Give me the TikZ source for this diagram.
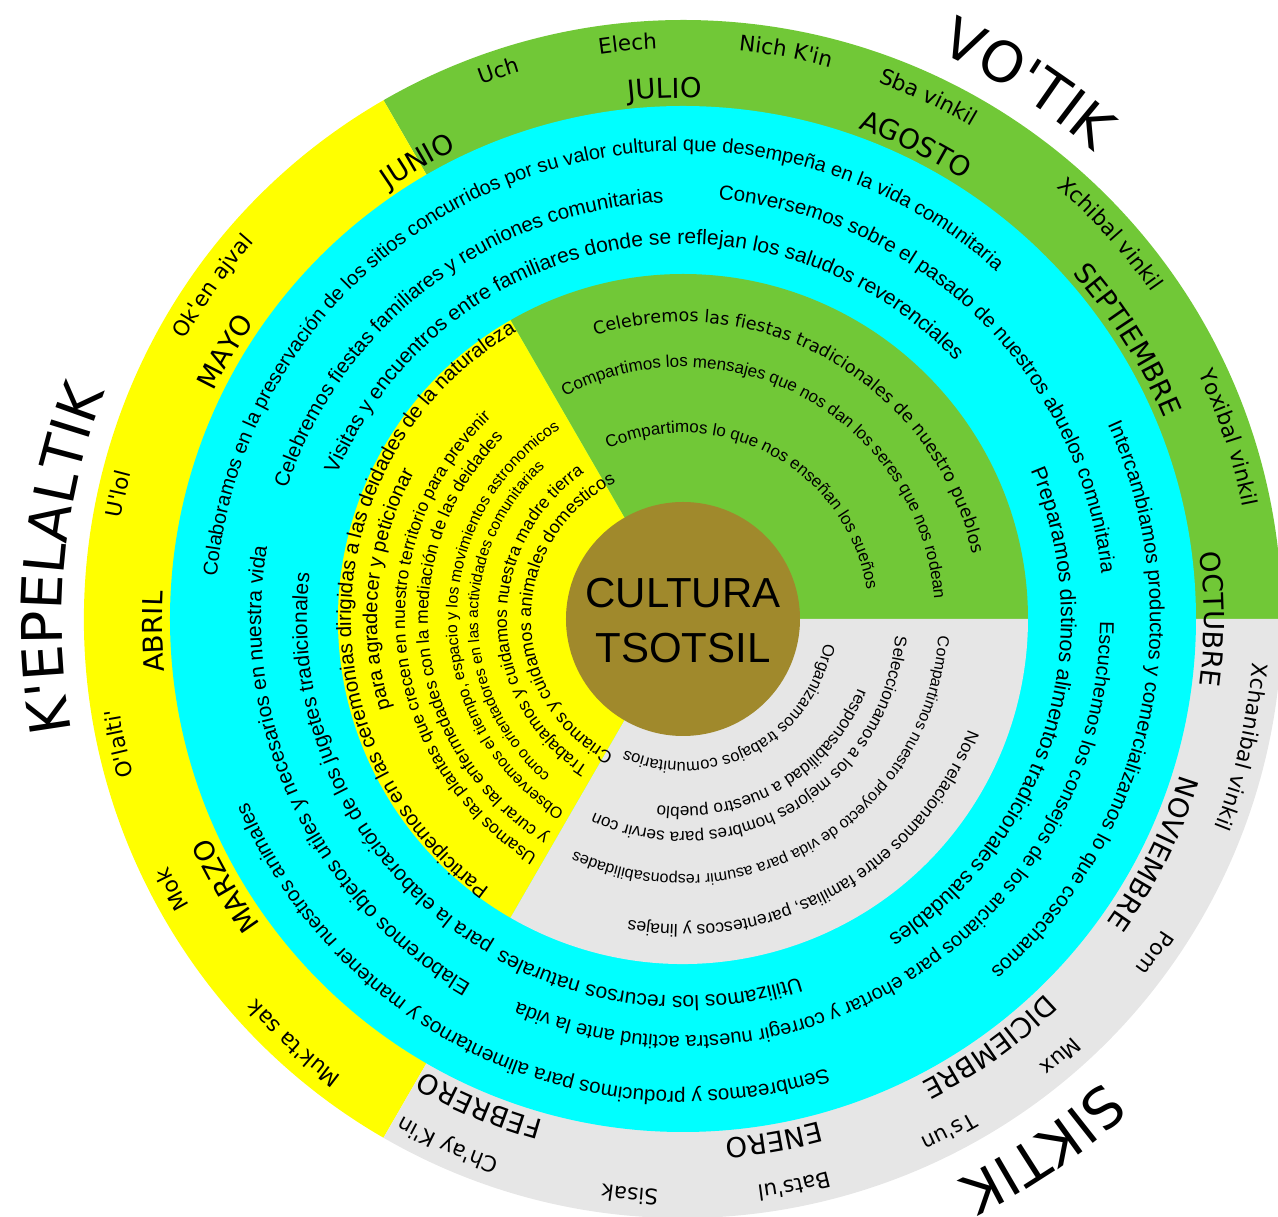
\documentclass[tikz,border=0pt]{standalone}
\usepackage{fontspec}
\usetikzlibrary{decorations.text}

\newfontfamily\rotulo{DejaVu Sans}
\newfontfamily\frase{Liberation Sans}

\definecolor{verde}{RGB}{113,200,55}
\definecolor{amarillo}{RGB}{255,255,0}
\definecolor{celeste}{RGB}{0,255,255}
\definecolor{gris}{RGB}{230,230,230}
\definecolor{tierra}{RGB}{160,137,44}

% font sizes
\newcommand{\fmes}{\rotulo\fontsize{27.5}{27.5}\selectfont}
\newcommand{\fnombre}{\rotulo\fontsize{21.5}{21.5}\selectfont}
\newcommand{\festacion}{\rotulo\fontsize{56}{56}\selectfont}
\newcommand{\ftexto}[1]{\frase\fontsize{#1}{#1}\selectfont}

% text set clockwise on a circle round the centre
% #1 font, #2 baseline radius, #3 middle angle, #4 text
\newcommand{\arco}[4]{%
  \path[decorate, decoration={text along path, text align=center, text={|#1|#4}}]
    ({#3+100}:#2) arc[start angle={#3+100}, end angle={#3-100}, radius=#2];}

\begin{document}
\begin{tikzpicture}[
  x=1pt, y=1pt,
  centro/.style={font=\ftexto{42}, anchor=base, inner sep=0pt}
]
\useasboundingbox (-683,-598) rectangle (595,619);

% Outer ring: months
\foreach \col/\a in {verde/0, amarillo/120, gris/240}
  \fill[\col] (0,0) -- (\a:599) arc[start angle=\a, end angle=\a+120, radius=599] -- cycle;
% Middle ring
\fill[celeste] (0,0) circle[radius=513];
% Inner sectors
\foreach \col/\a in {verde/0, amarillo/120, gris/240}
  \fill[\col] (0,0) -- (\a:345) arc[start angle=\a, end angle=\a+120, radius=345] -- cycle;
% Centre
\fill[tierra] (0,0) circle[radius=117];
\node[centro] (cultura) at (0,11) {CULTURA};
\node[centro] (tsotsil) at (0,-44) {TSOTSIL};

% Seasons
\arco{\festacion}{622}{57.2}{VO'TIK}
\arco{\festacion}{621}{174.5}{K'EPELALTIK}
\arco{\festacion}{625}{-55.8}{SIKTIK}

% Months
\arco{\fmes}{521}{120.1}{JUNIO}
\arco{\fmes}{521}{92}{JULIO}
\arco{\fmes}{521}{63.9}{AGOSTO}
\arco{\fmes}{521}{32.1}{SEPTIEMBRE}
\arco{\fmes}{521}{0}{OCTUBRE}
\arco{\fmes}{521}{-26.5}{NOVIEMBRE}
\arco{\fmes}{521}{-54.4}{DICIEMBRE}
\arco{\fmes}{521}{-80.1}{ENERO}
\arco{\fmes}{521}{-112.7}{FEBRERO}
\arco{\fmes}{521}{-149.7}{MARZO}
\arco{\fmes}{521}{-178.6}{ABRIL}
\arco{\fmes}{521}{149.7}{MAYO}

% Tsotsil months
\arco{\fnombre}{571}{108.6}{Uch}
\arco{\fnombre}{571}{95.5}{Elech}
\arco{\fnombre}{571}{79.7}{Nich K'in}
\arco{\fnombre}{571}{64.8}{Sba vinkil}
\arco{\fnombre}{571}{42}{Xchibal vinkil}
\arco{\fnombre}{571}{18.4}{Yoxibal vinkil}
\arco{\fnombre}{571}{-12.9}{Xchanibal vinkil}
\arco{\fnombre}{571}{-35.3}{Pom}
\arco{\fnombre}{571}{-49.2}{Mux}
\arco{\fnombre}{571}{-62.6}{Ts'un}
\arco{\fnombre}{571}{-78.9}{Bats'ul}
\arco{\fnombre}{571}{-95.3}{Sisak}
\arco{\fnombre}{571}{-114.1}{Ch'ay K'in}
\arco{\fnombre}{571}{-132.5}{Muk'ta sak}
\arco{\fnombre}{571}{-152.1}{Mok}
\arco{\fnombre}{571}{-167.5}{O'lalti'}
\arco{\fnombre}{571}{167.5}{U'lol}
\arco{\fnombre}{571}{144.7}{Ok'en ajval}

% Middle ring: activities
\arco{\ftexto{20}}{468}{111.4}{Colaboramos en la preservación de los sitios concurridos por su valor cultural que desempeña en la vida comunitaria}
\arco{\ftexto{20.5}}{417}{127.2}{Celebremos fiestas familiares y reuniones comunitarias}
\arco{\ftexto{20.5}}{421}{45.7}{Conversemos sobre el pasado de nuestros abuelos comunitaria}
\arco{\ftexto{21}}{375}{100.4}{Visitas y encuentros entre familiares donde se reflejan los saludos reverenciales}
\arco{\ftexto{20.5}}{467}{-12.1}{Intercambiamos productos y comercializamos lo que cosechamos}
\arco{\ftexto{21.5}}{378}{-17}{Preparamos distinos alimentos tradicionales saludables}
\arco{\ftexto{20}}{417}{-56.8}{Escuchemos los consejos de los ancianos para ehortar y corregir nuestra actitud ante la vida}
\arco{\ftexto{20.5}}{472}{-114.7}{Sembreamos y producimos para alimentarnos y mantener nuestros animales}
\arco{\ftexto{21}}{377}{-95.4}{Utilizamos los recursos naturales}
\arco{\ftexto{21}}{422}{205}{Elaboremos objetos utiles y necesarios en nuestra vida}
\arco{\ftexto{21}}{376}{206.4}{para la elaboración de los jugetes tradicionales}

% Inner sector: K'epelaltik
\arco{\ftexto{20.5}}{332}{177.2}{Participemos en las ceremonias dirigidas a las deidades de la naturaleza}
\arco{\ftexto{20}}{306}{174.2}{para agradecer y peticionar}
\arco{\ftexto{17.5}}{278}{186}{Usamos las plantas que crecen en nuestro territorio para prevenir}
\arco{\ftexto{17.5}}{255}{186.5}{y curar las enfermedades con la mediación de las deidades}
\arco{\ftexto{16}}{226}{180.6}{Observemos el tiempo, espacio y los movimientos astronomicos}
\arco{\ftexto{15.5}}{205}{181}{como orientadores en las actividades comunitarias}
\arco{\ftexto{17.5}}{176}{180.8}{Trabajamos y cuidamos nuestra madre tierra}
\arco{\ftexto{18}}{152}{179.5}{Criamos y cuidamos animales domesticos}

% Inner sector: Vo'tik
\arco{\rotulo\fontsize{17.5}{17.5}\selectfont}{297}{59.9}{Celebremos las fiestas tradicionales de nuestro pueblos}
\arco{\ftexto{17}}{252}{61.2}{Compartimos los mensajes que nos dan los seres que nos rodean}
\arco{\ftexto{17}}{186}{61.3}{Compartimos lo que nos enseñan los sueños}

% Inner sector: Siktik
\arco{\ftexto{16.5}}{143}{-61.8}{Organizamos trabajos comunitarios}
\arco{\ftexto{17}}{188}{-59.7}{responsabilidad a nuestro pueblo}
\arco{\ftexto{17}}{213}{-59.6}{Seleccionamos a los mejores hombres para servir con}
\arco{\ftexto{16}}{256}{-59.4}{Compartimos nuestro proyecto de vida para asumir responsabilidades}
\arco{\ftexto{17.5}}{306}{-60.7}{Nos relacionamos entre familias, parentescos y linajes}

\end{tikzpicture}
\end{document}
